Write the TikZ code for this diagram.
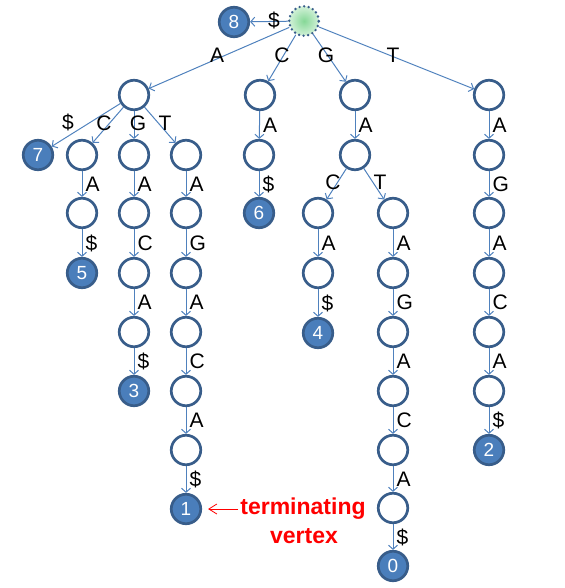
\documentclass[tikz,border=0pt]{standalone}
\usepackage{fontspec}
\setmainfont{Liberation Sans}
\usetikzlibrary{arrows.meta}
\definecolor{nodeblue}{HTML}{385D8A}
\definecolor{edgeblue}{HTML}{4F81BD}
\definecolor{leaffill}{HTML}{4A7EBB}
\definecolor{rootin}{HTML}{86D897}
\definecolor{rootout}{HTML}{D2F1D8}
\definecolor{termred}{HTML}{FF0000}
\begin{document}
\begin{tikzpicture}[x=1pt,y=-1pt,
 vtx/.style={circle, draw=nodeblue, line width=2.7pt, minimum size=29.5pt, inner sep=0pt, fill=white},
 leaf/.style={vtx, fill=leaffill, text=white, font=\fontsize{19}{21}\selectfont},
 rootv/.style={circle, draw=nodeblue, line width=2.7pt, line cap=round, dash pattern=on 0pt off 4.6pt, minimum size=29.5pt, inner sep=0pt, inner color=rootin, outer color=rootout},
 conn/.style={draw=edgeblue, line width=1pt, -{Straight Barb[length=4pt,width=9pt]}},
 lbl/.style={font=\fontsize{21}{24}\selectfont, inner sep=0pt},
 vl/.style={lbl, anchor=west, xshift=3pt, midway},
 term/.style={font=\fontsize{23}{27}\selectfont\bfseries, text=termred, inner sep=0pt, anchor=base},
 redarrow/.style={draw=termred, line width=0.8pt, -{Straight Barb[length=8pt,width=10pt]}},
]
\useasboundingbox (0,0) rectangle (564,588);

% nodes
\node[rootv] (root) at (304,21) {};
\node[leaf] (n8) at (234,22) {8};
\node[vtx] (a) at (134,95) {};
\node[vtx] (c) at (260,95) {};
\node[vtx] (g) at (355,95) {};
\node[vtx] (t) at (489,95) {};
\node[leaf] (n7) at (38,155) {7};
\node[vtx] (ac) at (82,155) {};
\node[vtx] (ag) at (134,155) {};
\node[vtx] (at) at (186,155) {};
\node[vtx] (aca) at (82,213) {};
\node[leaf] (n5) at (82,273) {5};
\node[vtx] (aga) at (134,213) {};
\node[vtx] (agac) at (134,273) {};
\node[vtx] (agaca) at (134,332) {};
\node[leaf] (n3) at (134,391) {3};
\node[vtx] (ata) at (186,213) {};
\node[vtx] (atag) at (186,273) {};
\node[vtx] (ataga) at (186,332) {};
\node[vtx] (atagac) at (186,391) {};
\node[vtx] (atagaca) at (186,450) {};
\node[leaf] (n1) at (186,509) {1};
\node[vtx] (ca) at (259,155) {};
\node[leaf] (n6) at (259,213) {6};
\node[vtx] (ga) at (355,155) {};
\node[vtx] (gac) at (318,213) {};
\node[vtx] (gaca) at (318,273) {};
\node[leaf] (n4) at (318,333) {4};
\node[vtx] (gat) at (393,213) {};
\node[vtx] (gata) at (393,273) {};
\node[vtx] (gatag) at (393,332) {};
\node[vtx] (gataga) at (393,391) {};
\node[vtx] (gatagac) at (393,450) {};
\node[vtx] (gatagaca) at (393,508) {};
\node[leaf] (n0) at (393,566) {0};
\node[vtx] (ta) at (489,155) {};
\node[vtx] (tag) at (489,213) {};
\node[vtx] (taga) at (489,273) {};
\node[vtx] (tagac) at (489,332) {};
\node[vtx] (tagaca) at (489,391) {};
\node[leaf] (n2) at (489,450) {2};

% root edges
\draw[conn] (root) -- (n8);
\draw[conn] (root) -- (a);
\draw[conn] (root) -- (c);
\draw[conn] (root) -- (g);
\draw[conn] (root) -- (t);
\node[lbl] (l8) at (274,20) {\$};
\node[lbl] (lA) at (217,55) {A};
\node[lbl] (lC) at (282,55) {C};
\node[lbl] (lG) at (326,55) {G};
\node[lbl] (lT) at (393,55) {T};

% A subtree
\draw[conn] (a) -- (n7);
\draw[conn] (a) -- (ac);
\draw[conn] (a) -- (ag);
\draw[conn] (a) -- (at);
\node[lbl] (la7) at (68,122) {\$};
\node[lbl] (laC) at (104,123) {C};
\node[lbl] (laG) at (138,123) {G};
\node[lbl] (laT) at (165,123) {T};
\draw[conn] (ac) -- node[vl]{A} (aca);
\draw[conn] (aca) -- node[vl]{\$} (n5);
\draw[conn] (ag) -- node[vl]{A} (aga);
\draw[conn] (aga) -- node[vl]{C} (agac);
\draw[conn] (agac) -- node[vl]{A} (agaca);
\draw[conn] (agaca) -- node[vl]{\$} (n3);
\draw[conn] (at) -- node[vl]{A} (ata);
\draw[conn] (ata) -- node[vl]{G} (atag);
\draw[conn] (atag) -- node[vl]{A} (ataga);
\draw[conn] (ataga) -- node[vl]{C} (atagac);
\draw[conn] (atagac) -- node[vl]{A} (atagaca);
\draw[conn] (atagaca) -- node[vl]{\$} (n1);

% C subtree
\draw[conn] (c) -- node[vl]{A} (ca);
\draw[conn] (ca) -- node[vl]{\$} (n6);

% G subtree
\draw[conn] (g) -- node[vl]{A} (ga);
\draw[conn] (ga) -- (gac);
\draw[conn] (ga) -- (gat);
\node[lbl] (lgC) at (333,182) {C};
\node[lbl] (lgT) at (380,182) {T};
\draw[conn] (gac) -- node[vl]{A} (gaca);
\draw[conn] (gaca) -- node[vl]{\$} (n4);
\draw[conn] (gat) -- node[vl]{A} (gata);
\draw[conn] (gata) -- node[vl]{G} (gatag);
\draw[conn] (gatag) -- node[vl]{A} (gataga);
\draw[conn] (gataga) -- node[vl]{C} (gatagac);
\draw[conn] (gatagac) -- node[vl]{A} (gatagaca);
\draw[conn] (gatagaca) -- node[vl]{\$} (n0);

% T subtree
\draw[conn] (t) -- node[vl]{A} (ta);
\draw[conn] (ta) -- node[vl]{G} (tag);
\draw[conn] (tag) -- node[vl]{A} (taga);
\draw[conn] (taga) -- node[vl]{C} (tagac);
\draw[conn] (tagac) -- node[vl]{A} (tagaca);
\draw[conn] (tagaca) -- node[vl]{\$} (n2);

% annotation
\node[term] (term1) at (303,514) {terminating};
\node[term] (term2) at (304,543) {vertex};
\draw[redarrow, shorten <=2pt, shorten >=6pt] (term1.west |- n1) -- (n1);
\end{tikzpicture}
\end{document}
